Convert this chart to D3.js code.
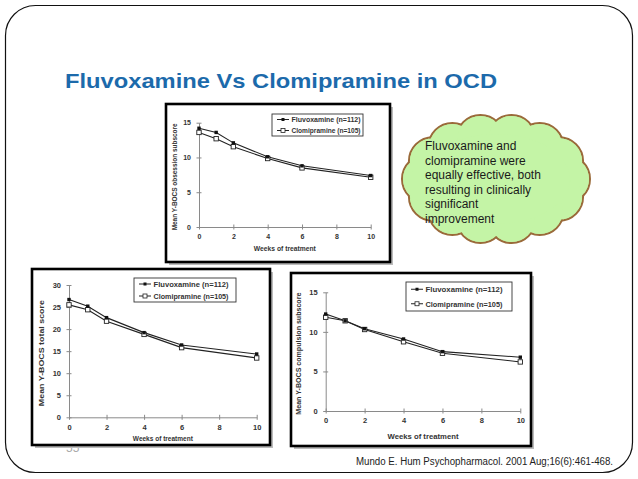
<!DOCTYPE html>
<html><head><meta charset="utf-8">
<script src="https://cdn.jsdelivr.net/npm/d3@7"></script>
<style>html,body{margin:0;padding:0;background:#fff;}svg{display:block;}</style>
</head><body>
<svg id="s" width="638" height="479"></svg>
<script>
// ---- data ----
const weeks = [0, 1, 2, 4, 6, 10];
const xTicks = [0, 2, 4, 6, 8, 10];
const seriesNames = ["Fluvoxamine (n=112)", "Clomipramine (n=105)"];
const obsFluv  = [14.2, 13.6, 12.1, 10.1, 8.8, 7.4];
const obsClomi = [13.6, 12.7, 11.55, 9.85, 8.5, 7.15];
const totFluv  = [26.7, 25.2, 22.6, 19.2, 16.4, 14.35];
const totClomi = [25.5, 24.4, 21.8, 18.8, 15.8, 13.45];
const comFluv  = [12.25, 11.4, 10.4, 9.1, 7.5, 6.8];
const comClomi = [11.85, 11.4, 10.3, 8.75, 7.3, 6.2];
const ticks15 = [0, 5, 10, 15];
const ticks30 = [0, 5, 10, 15, 20, 25, 30];
const yLabels = ["Mean Y-BOCS obsession subscore", "Mean Y-BOCS total score", "Mean Y-BOCS compulsion subscore"];
const xLabel = "Weeks of treatment";
const titleText = "Fluvoxamine Vs Clomipramine in OCD";
const cloudLines = ["Fluvoxamine and", "clomipramine were", "equally effective, both", "resulting in clinically", "significant", "improvement"];
const citation = "Mundo E. Hum Psychopharmacol. 2001 Aug;16(6):461-468.";

// ---- layout ----
const charts = [
  {fluv: obsFluv, clomi: obsClomi, yMax: 15, yTicks: ticks15, ylab: yLabels[0],
   box: [166, 104, 390, 262], px: [199, 370.7], py: [227, 122.7],
   leg: [272, 114, 363, 136], legFs: 7.2, legTL: 69,
   ylx: 177, ylLen: 107, xlY: 251, xlLen: 62, fs: 7},
  {fluv: totFluv, clomi: totClomi, yMax: 30, yTicks: ticks30, ylab: yLabels[1],
   box: [32, 269, 270, 445], px: [69, 256.7], py: [417.3, 285],
   leg: [134, 278, 236, 302], legFs: 7.8, legTL: 75,
   ylx: 44, ylLen: 106, xlY: 441, xlLen: 60, fs: 7.5},
  {fluv: comFluv, clomi: comClomi, yMax: 15, yTicks: ticks15, ylab: yLabels[2],
   box: [291, 273, 531, 446], px: [325.7, 520.3], py: [411, 292.3],
   leg: [406, 282, 512, 311], legFs: 8, legTL: 77,
   ylx: 301, ylLen: 122, xlY: 438.5, xlLen: 71, fs: 7.5}
];

const svg = d3.select("#s");
const FONT = "'Liberation Sans', Arial, sans-serif";

// slide frame
svg.append("rect").attr("x", 5.5).attr("y", 5.5).attr("width", 627).attr("height", 467)
  .attr("rx", 30).attr("fill", "#fff").attr("stroke", "#111").attr("stroke-width", 1.2);

// title
svg.append("text").attr("x", 65).attr("y", 88).text(titleText)
  .attr("font-family", FONT).attr("font-weight", "bold").attr("font-size", 21)
  .attr("fill", "#1c6aab").attr("textLength", 432).attr("lengthAdjust", "spacingAndGlyphs");

// faint slide number
svg.append("text").attr("x", 66).attr("y", 452).text("55")
  .attr("font-family", FONT).attr("font-size", 12).attr("fill", "#aaa");

// citation
svg.append("text").attr("x", 356).attr("y", 465).text(citation)
  .attr("font-family", FONT).attr("font-size", 10).attr("fill", "#222")
  .attr("textLength", 257).attr("lengthAdjust", "spacingAndGlyphs");

// cloud
const cloud = svg.append("g");
const cc = [496, 179], crx = 70, cry = 41, br = 24, nb = 14;
const bumps = d3.range(nb).map(i => {
  const a = i / nb * 2 * Math.PI;
  return [cc[0] + crx * Math.cos(a), cc[1] + cry * Math.sin(a)];
});
cloud.selectAll("circle.o").data(bumps).join("circle").attr("class", "o")
  .attr("cx", d => d[0]).attr("cy", d => d[1]).attr("r", br)
  .attr("fill", "#c4f4a6").attr("stroke", "#9a6a3a").attr("stroke-width", 2);
cloud.selectAll("circle.i").data(bumps).join("circle").attr("class", "i")
  .attr("cx", d => d[0]).attr("cy", d => d[1]).attr("r", br - 1)
  .attr("fill", "#c4f4a6");
cloud.append("ellipse").attr("cx", cc[0]).attr("cy", cc[1]).attr("rx", crx + 4).attr("ry", cry + 4)
  .attr("fill", "#c4f4a6");
cloud.selectAll("text").data(cloudLines).join("text")
  .attr("x", 425).attr("y", (d, i) => 150 + i * 14.6).text(d => d)
  .attr("font-family", FONT).attr("font-size", 12).attr("fill", "#1a1a1a");

// charts
charts.forEach(c => {
  const g = svg.append("g");
  const [bx0, by0, bx1, by1] = c.box;
  g.append("rect").attr("x", bx0 + 3).attr("y", by0 + 3).attr("width", bx1 - bx0).attr("height", by1 - by0)
    .attr("fill", "#bbb");
  g.append("rect").attr("x", bx0).attr("y", by0).attr("width", bx1 - bx0).attr("height", by1 - by0)
    .attr("fill", "#fff").attr("stroke", "#000").attr("stroke-width", 2.6);

  const x = d3.scaleLinear().domain([0, 10]).range(c.px);
  const y = d3.scaleLinear().domain([0, c.yMax]).range(c.py);

  const axCol = "#8a8a8a", txtCol = "#333";
  const xa = g.append("g").attr("transform", `translate(0,${c.py[0]})`)
    .call(d3.axisBottom(x).tickValues(xTicks).tickSize(0).tickPadding(7).tickFormat(d3.format("d")));
  xa.select(".domain").attr("stroke", axCol).attr("stroke-width", 1);
  xa.selectAll(".tick").append("line").attr("y1", -2.5).attr("y2", 2.5).attr("stroke", axCol);
  xa.selectAll("text").attr("font-family", FONT).attr("font-weight", "bold")
    .attr("font-size", c.fs).attr("fill", txtCol);
  const ya = g.append("g").attr("transform", `translate(${c.px[0]},0)`)
    .call(d3.axisLeft(y).tickValues(c.yTicks).tickSize(0).tickPadding(8).tickFormat(d3.format("d")));
  ya.select(".domain").attr("stroke", axCol).attr("stroke-width", 1);
  ya.selectAll(".tick").append("line").attr("x1", -2.5).attr("x2", 2.5).attr("stroke", axCol);
  ya.selectAll("text").attr("font-family", FONT).attr("font-weight", "bold")
    .attr("font-size", c.fs).attr("fill", txtCol);

  g.append("text").attr("x", (c.px[0] + c.px[1]) / 2).attr("y", c.xlY).attr("text-anchor", "middle")
    .text(xLabel).attr("font-family", FONT).attr("font-weight", "bold").attr("font-size", 7.5)
    .attr("fill", txtCol).attr("textLength", c.xlLen).attr("lengthAdjust", "spacingAndGlyphs");
  g.append("text").attr("transform", `translate(${c.ylx},${(c.py[0] + c.py[1]) / 2 + 2}) rotate(-90)`)
    .attr("text-anchor", "middle").text(c.ylab).attr("font-family", FONT).attr("font-weight", "bold")
    .attr("font-size", 7).attr("fill", txtCol).attr("textLength", c.ylLen).attr("lengthAdjust", "spacingAndGlyphs");

  const line = d3.line().x((d, i) => x(weeks[i])).y(d => y(d));
  [c.clomi, c.fluv].forEach(vals => {
    g.append("path").datum(vals).attr("d", line).attr("fill", "none")
      .attr("stroke", "#222").attr("stroke-width", 1.1);
  });
  g.selectAll("rect.cl").data(c.clomi).join("rect").attr("class", "cl")
    .attr("x", (d, i) => x(weeks[i]) - 2.2).attr("y", d => y(d) - 2.2)
    .attr("width", 4.4).attr("height", 4.4).attr("fill", "#fff").attr("stroke", "#222").attr("stroke-width", 0.9);
  g.selectAll("rect.fv").data(c.fluv).join("rect").attr("class", "fv")
    .attr("x", (d, i) => x(weeks[i]) - 1.7).attr("y", d => y(d) - 1.7)
    .attr("width", 3.4).attr("height", 3.4).attr("fill", "#111");

  const [lx0, ly0, lx1, ly1] = c.leg;
  g.append("rect").attr("x", lx0).attr("y", ly0).attr("width", lx1 - lx0).attr("height", ly1 - ly0)
    .attr("fill", "#fff").attr("stroke", "#333").attr("stroke-width", 0.9);
  const rowH = (ly1 - ly0) / 2;
  seriesNames.forEach((nm, i) => {
    const cy = ly0 + rowH * (i + 0.5);
    const sx0 = lx0 + 5, sx1 = lx0 + 17;
    g.append("line").attr("x1", sx0).attr("x2", sx1).attr("y1", cy).attr("y2", cy)
      .attr("stroke", "#222").attr("stroke-width", 1);
    if (i === 0) {
      g.append("rect").attr("x", (sx0 + sx1) / 2 - 1.5).attr("y", cy - 1.5).attr("width", 3).attr("height", 3)
        .attr("fill", "#111");
    } else {
      g.append("rect").attr("x", (sx0 + sx1) / 2 - 2).attr("y", cy - 2).attr("width", 4).attr("height", 4)
        .attr("fill", "#fff").attr("stroke", "#222").attr("stroke-width", 0.8);
    }
    g.append("text").attr("x", sx1 + 2.5).attr("y", cy + c.legFs * 0.36).text(nm)
      .attr("font-family", FONT).attr("font-weight", "bold").attr("font-size", c.legFs).attr("fill", txtCol)
      .attr("textLength", c.legTL).attr("lengthAdjust", "spacingAndGlyphs");
  });
});
</script>
</body></html>
